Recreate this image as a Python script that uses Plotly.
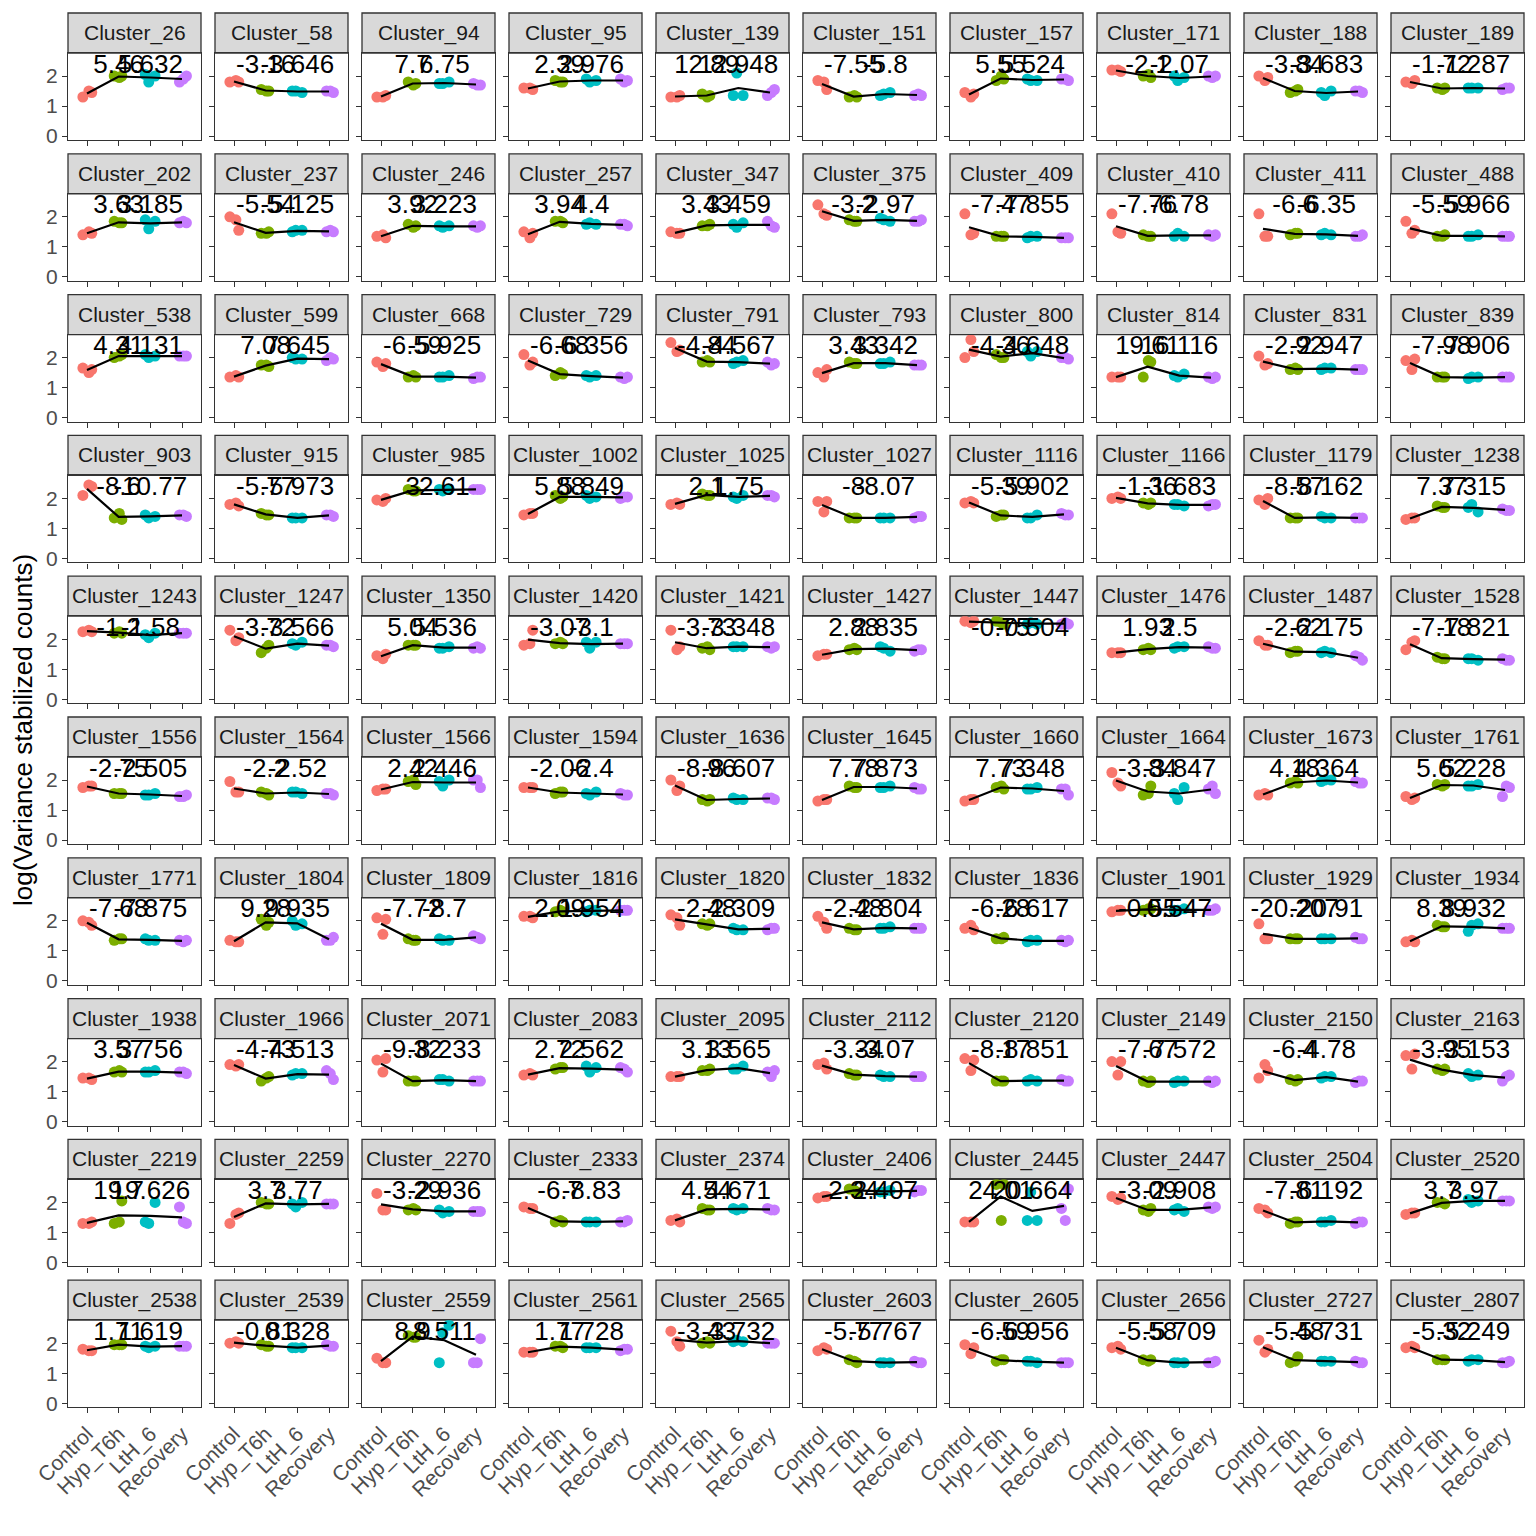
import plotly.graph_objects as go

CLUSTERS = [26, 58, 94, 95, 139, 151, 157, 171, 188, 189,
            202, 237, 246, 257, 347, 375, 409, 410, 411, 488,
            538, 599, 668, 729, 791, 793, 800, 814, 831, 839,
            903, 915, 985, 1002, 1025, 1027, 1116, 1166, 1179, 1238,
            1243, 1247, 1350, 1420, 1421, 1427, 1447, 1476, 1487, 1528,
            1556, 1564, 1566, 1594, 1636, 1645, 1660, 1664, 1673, 1761,
            1771, 1804, 1809, 1816, 1820, 1832, 1836, 1901, 1929, 1934,
            1938, 1966, 2071, 2083, 2095, 2112, 2120, 2149, 2150, 2163,
            2219, 2259, 2270, 2333, 2374, 2406, 2445, 2447, 2504, 2520,
            2538, 2539, 2559, 2561, 2565, 2603, 2605, 2656, 2727, 2807]

GROUPS = ["Control", "Hyp_T6h", "LtH_6", "Recovery"]

CONTROL = [
    [1.3, 1.5, 1.45], [1.8, 1.85, 1.8], [1.3, 1.3, 1.35], [1.6, 1.6, 1.55], [1.3, 1.3, 1.35],
    [1.85, 1.8, 1.55], [1.45, 1.3, 1.4], [2.2, 2.2, 2.15], [2.0, 1.85, 1.95], [1.8, 1.75, 1.85],
    [1.4, 1.5, 1.45], [2.0, 1.9, 1.55], [1.35, 1.4, 1.3], [1.5, 1.3, 1.45], [1.5, 1.45, 1.45],
    [2.4, 2.1, 2.05], [2.1, 1.4, 1.45], [2.1, 1.5, 1.45], [2.1, 1.35, 1.35], [1.85, 1.45, 1.55],
    [1.65, 1.5, 1.6], [1.35, 1.4, 1.35], [1.85, 1.7, 1.8], [2.1, 1.75, 1.85], [2.5, 2.2, 2.25],
    [1.5, 1.35, 1.6], [2.0, 2.6, 2.2], [1.35, 1.35, 1.35], [2.05, 1.75, 1.8], [1.9, 1.6, 1.95],
    [2.1, 2.45, 2.4], [1.8, 1.85, 1.75], [1.95, 1.9, 2.0], [1.45, 1.5, 1.5], [1.8, 1.85, 1.8],
    [1.9, 1.55, 1.9], [1.85, 1.9, 1.85], [2.0, 2.05, 2.0], [1.95, 1.8, 2.0], [1.3, 1.35, 1.35],
    [2.25, 2.3, 2.25], [2.3, 1.95, 2.05], [1.45, 1.35, 1.5], [1.8, 1.85, 2.3], [2.3, 1.65, 1.75],
    [1.45, 1.5, 1.5], [2.6, 2.55, 2.6], [1.55, 1.55, 1.55], [1.95, 1.8, 1.8], [1.65, 1.9, 1.95],
    [1.75, 1.8, 1.8], [1.95, 1.6, 1.6], [1.65, 1.7, 1.7], [1.75, 1.75, 1.75], [2.0, 1.65, 1.8],
    [1.3, 1.35, 1.35], [1.3, 1.35, 1.35], [2.25, 1.9, 1.8], [1.5, 1.55, 1.5], [1.45, 1.35, 1.4],
    [2.0, 1.95, 1.85], [1.35, 1.3, 1.3], [2.1, 1.55, 2.05], [2.15, 2.15, 2.1], [2.2, 2.1, 1.85],
    [2.15, 1.95, 1.75], [1.75, 1.85, 1.7], [2.3, 2.35, 2.35], [1.9, 1.4, 1.4], [1.3, 1.35, 1.3],
    [1.45, 1.45, 1.4], [1.9, 1.85, 1.9], [2.05, 1.65, 2.1], [1.55, 1.6, 1.55], [1.5, 1.5, 1.5],
    [1.9, 1.95, 1.75], [2.1, 1.7, 2.05], [2.0, 1.55, 2.0], [1.45, 1.9, 1.7], [2.2, 1.75, 2.25],
    [1.3, 1.3, 1.35], [1.3, 1.6, 1.65], [2.3, 1.75, 1.75], [1.85, 1.8, 1.8], [1.4, 1.45, 1.35],
    [2.15, 2.2, 2.2], [1.35, 1.35, 1.35], [2.2, 2.1, 2.15], [1.8, 1.75, 1.65], [1.6, 1.65, 1.65],
    [1.8, 1.75, 1.75], [2.0, 2.05, 2.0], [1.5, 1.35, 1.35], [1.7, 1.7, 1.7], [2.4, 2.05, 1.9],
    [1.75, 1.85, 1.8], [1.95, 1.65, 1.85], [1.85, 1.9, 1.8], [2.1, 1.7, 1.8], [1.85, 1.9, 1.85],
]

HYP_T6H = [
    [2.0, 2.0, 1.95], [1.5, 1.55, 1.5], [1.75, 1.8, 1.7], [1.8, 1.85, 1.8], [1.35, 1.4, 1.3],
    [1.3, 1.3, 1.35], [1.9, 1.85, 2.0], [1.95, 2.0, 2.05], [1.55, 1.45, 1.5], [1.6, 1.6, 1.55],
    [1.8, 1.85, 1.8], [1.5, 1.45, 1.45], [1.7, 1.75, 1.65], [1.8, 1.85, 1.85], [1.75, 1.7, 1.7],
    [1.85, 1.9, 1.85], [1.35, 1.35, 1.35], [1.35, 1.4, 1.35], [1.45, 1.4, 1.45], [1.4, 1.35, 1.35],
    [2.1, 2.0, 2.05], [1.7, 1.75, 1.75], [1.35, 1.35, 1.4], [1.45, 1.4, 1.5], [1.85, 1.85, 1.9],
    [1.8, 1.85, 1.8], [2.0, 2.1, 2.0], [1.85, 1.35, 1.9], [1.6, 1.6, 1.65], [1.35, 1.35, 1.35],
    [1.3, 1.35, 1.5], [1.45, 1.5, 1.45], [2.25, 2.3, 2.25], [2.05, 2.1, 2.0], [2.1, 2.15, 2.1],
    [1.35, 1.35, 1.35], [1.45, 1.4, 1.45], [1.85, 1.85, 1.8], [1.35, 1.35, 1.35], [1.7, 1.75, 1.7],
    [2.2, 2.2, 2.25], [1.8, 1.55, 1.7], [1.8, 1.8, 1.8], [1.85, 1.85, 1.9], [1.65, 1.7, 1.75],
    [1.65, 1.65, 1.7], [2.5, 2.6, 2.55], [1.65, 1.65, 1.7], [1.6, 1.55, 1.6], [1.35, 1.4, 1.35],
    [1.55, 1.55, 1.55], [1.5, 1.6, 1.55], [1.85, 1.95, 2.0], [1.6, 1.55, 1.6], [1.35, 1.35, 1.3],
    [1.75, 1.8, 1.75], [1.7, 1.75, 1.8], [1.8, 1.5, 1.55], [1.9, 1.9, 1.95], [1.85, 1.85, 1.8],
    [1.4, 1.35, 1.4], [1.95, 2.05, 1.85], [1.35, 1.4, 1.35], [2.3, 2.3, 2.35], [1.9, 1.9, 1.85],
    [1.7, 1.75, 1.7], [1.45, 1.4, 1.4], [2.4, 2.35, 2.4], [1.4, 1.4, 1.4], [1.8, 1.85, 1.8],
    [1.65, 1.65, 1.7], [1.5, 1.35, 1.45], [1.35, 1.35, 1.35], [1.8, 1.75, 1.8], [1.75, 1.7, 1.7],
    [1.55, 1.6, 1.55], [1.35, 1.35, 1.35], [1.35, 1.35, 1.3], [1.4, 1.4, 1.35], [1.75, 1.75, 1.7],
    [2.05, 1.3, 1.35], [1.95, 2.0, 1.95], [1.75, 1.75, 1.8], [1.35, 1.35, 1.4], [1.75, 1.8, 1.75],
    [2.35, 2.45, 2.4], [2.6, 2.6, 1.4], [1.8, 1.75, 1.7], [1.35, 1.3, 1.35], [1.95, 2.0, 2.0],
    [1.95, 1.95, 1.95], [1.9, 1.95, 1.9], [2.2, 2.25, 2.2], [1.85, 1.9, 1.9], [2.0, 2.0, 2.05],
    [1.35, 1.45, 1.4], [1.45, 1.4, 1.45], [1.45, 1.45, 1.4], [1.55, 1.35, 1.4], [1.45, 1.45, 1.45],
]

LTH_6 = [
    [1.8, 2.0, 2.05], [1.5, 1.45, 1.5], [1.75, 1.8, 1.75], [1.8, 1.85, 1.9], [2.1, 1.35, 1.35],
    [1.4, 1.45, 1.35], [1.85, 1.85, 1.9], [1.85, 1.95, 2.0], [1.35, 1.5, 1.45], [1.6, 1.6, 1.6],
    [1.6, 1.85, 1.9], [1.55, 1.55, 1.5], [1.65, 1.7, 1.7], [1.8, 1.75, 1.75], [1.65, 1.8, 1.75],
    [1.9, 1.85, 1.95], [1.35, 1.35, 1.3], [1.45, 1.35, 1.35], [1.45, 1.4, 1.4], [1.35, 1.4, 1.35],
    [2.0, 2.05, 2.1], [1.95, 1.95, 2.0], [1.35, 1.4, 1.35], [1.35, 1.4, 1.4], [1.85, 1.9, 1.8],
    [1.8, 1.85, 1.8], [2.05, 2.2, 2.2], [1.35, 1.45, 1.4], [1.65, 1.65, 1.6], [1.35, 1.35, 1.3],
    [1.35, 1.4, 1.45], [1.35, 1.35, 1.35], [2.25, 2.3, 2.3], [2.0, 2.05, 2.1], [2.0, 2.1, 2.05],
    [1.35, 1.35, 1.35], [1.35, 1.45, 1.35], [1.8, 1.75, 1.8], [1.35, 1.35, 1.4], [1.8, 1.55, 1.7],
    [2.05, 2.2, 2.15], [1.8, 1.9, 1.85], [1.7, 1.75, 1.7], [1.7, 1.9, 1.9], [1.75, 1.75, 1.75],
    [1.7, 1.6, 1.75], [2.55, 2.5, 2.5], [1.75, 1.75, 1.7], [1.6, 1.55, 1.55], [1.35, 1.3, 1.35],
    [1.5, 1.55, 1.5], [1.6, 1.55, 1.6], [1.8, 2.0, 1.95], [1.5, 1.6, 1.55], [1.35, 1.35, 1.4],
    [1.75, 1.8, 1.75], [1.7, 1.75, 1.7], [1.35, 1.75, 1.55], [2.0, 2.0, 1.95], [1.8, 1.85, 1.8],
    [1.35, 1.35, 1.4], [1.85, 1.9, 2.0], [1.35, 1.35, 1.4], [2.35, 2.35, 2.3], [1.7, 1.7, 1.75],
    [1.75, 1.8, 1.75], [1.35, 1.35, 1.3], [2.35, 2.4, 2.35], [1.4, 1.4, 1.4], [1.85, 1.9, 1.65],
    [1.65, 1.7, 1.65], [1.6, 1.6, 1.55], [1.4, 1.35, 1.4], [1.65, 1.8, 1.85], [1.75, 1.85, 1.75],
    [1.5, 1.5, 1.55], [1.4, 1.35, 1.35], [1.35, 1.35, 1.3], [1.5, 1.5, 1.45], [1.5, 1.55, 1.6],
    [1.3, 2.0, 1.35], [1.85, 2.0, 1.95], [1.65, 1.7, 1.75], [1.35, 1.35, 1.35], [1.75, 1.8, 1.8],
    [2.35, 2.4, 2.35], [2.35, 1.4, 1.4], [1.8, 1.7, 1.75], [1.35, 1.4, 1.35], [2.0, 2.05, 2.1],
    [1.85, 1.9, 1.9], [1.85, 1.85, 1.85], [2.35, 2.6, 1.35], [1.85, 1.85, 1.85], [2.1, 2.05, 2.05],
    [1.35, 1.35, 1.35], [1.4, 1.35, 1.4], [1.35, 1.35, 1.35], [1.4, 1.4, 1.4], [1.45, 1.45, 1.4],
]

RECOVERY = [
    [2.0, 1.8, 1.9], [1.45, 1.5, 1.5], [1.7, 1.75, 1.7], [1.85, 1.9, 1.8], [1.55, 1.35, 1.45],
    [1.35, 1.35, 1.4], [1.85, 1.9, 1.9], [2.0, 2.0, 1.95], [1.45, 1.5, 1.5], [1.6, 1.55, 1.6],
    [1.8, 1.8, 1.85], [1.5, 1.5, 1.55], [1.7, 1.7, 1.65], [1.7, 1.75, 1.75], [1.65, 1.85, 1.7],
    [1.9, 1.85, 1.85], [1.3, 1.3, 1.3], [1.4, 1.4, 1.35], [1.4, 1.35, 1.35], [1.35, 1.35, 1.35],
    [2.05, 2.05, 2.05], [1.95, 1.9, 2.0], [1.35, 1.3, 1.35], [1.35, 1.35, 1.3], [1.8, 1.85, 1.75],
    [1.75, 1.75, 1.75], [1.95, 2.0, 2.0], [1.35, 1.35, 1.3], [1.6, 1.6, 1.6], [1.35, 1.35, 1.35],
    [1.4, 1.45, 1.45], [1.4, 1.45, 1.45], [2.3, 2.3, 2.3], [2.05, 2.0, 2.05], [2.05, 2.1, 2.1],
    [1.4, 1.35, 1.4], [1.45, 1.5, 1.45], [1.8, 1.75, 1.8], [1.35, 1.35, 1.35], [1.6, 1.65, 1.6],
    [2.2, 2.2, 2.2], [1.75, 1.8, 1.8], [1.7, 1.7, 1.75], [1.85, 1.85, 1.85], [1.75, 1.75, 1.7],
    [1.65, 1.6, 1.65], [2.5, 2.5, 2.55], [1.7, 1.75, 1.7], [1.3, 1.45, 1.4], [1.3, 1.35, 1.3],
    [1.5, 1.45, 1.45], [1.5, 1.55, 1.55], [1.75, 2.0, 2.0], [1.5, 1.55, 1.5], [1.35, 1.4, 1.4],
    [1.7, 1.75, 1.7], [1.5, 1.7, 1.7], [1.55, 1.7, 1.8], [1.9, 1.95, 1.9], [1.75, 1.45, 1.8],
    [1.35, 1.35, 1.3], [1.45, 1.35, 1.35], [1.4, 1.5, 1.45], [2.35, 2.35, 2.35], [1.75, 1.7, 1.75],
    [1.75, 1.75, 1.75], [1.35, 1.35, 1.3], [2.4, 2.35, 2.35], [1.4, 1.45, 1.4], [1.75, 1.75, 1.75],
    [1.6, 1.65, 1.65], [1.4, 1.7, 1.6], [1.35, 1.35, 1.35], [1.65, 1.8, 1.75], [1.7, 1.65, 1.5],
    [1.5, 1.5, 1.5], [1.35, 1.4, 1.35], [1.35, 1.35, 1.3], [1.35, 1.3, 1.35], [1.55, 1.35, 1.5],
    [1.3, 1.85, 1.35], [1.95, 1.95, 1.95], [1.7, 1.7, 1.7], [1.4, 1.35, 1.35], [1.75, 1.8, 1.75],
    [2.4, 2.35, 2.4], [2.45, 1.8, 1.4], [1.85, 1.85, 1.8], [1.35, 1.3, 1.35], [2.05, 2.05, 2.05],
    [1.9, 1.9, 1.9], [1.9, 1.95, 1.9], [2.15, 1.35, 1.35], [1.8, 1.75, 1.8], [2.0, 2.0, 2.0],
    [1.35, 1.4, 1.35], [1.35, 1.35, 1.35], [1.4, 1.35, 1.35], [1.35, 1.4, 1.35], [1.4, 1.35, 1.35],
]

LABEL_HYP = ["5.46", "-3.16", "7.7", "2.39", "12.89", "-7.55", "5.55", "-2.1", "-3.84", "-1.72",
             "3.63", "-5.54", "3.92", "3.94", "3.43", "-3.2", "-7.47", "-7.76", "-6.6", "-5.59",
             "4.31", "7.08", "-6.59", "-6.68", "-4.84", "3.43", "-4.36", "19.61", "-2.92", "-7.98",
             "-8.6", "-5.77", "3", "5.88", "2.1", "-8", "-5.39", "-1.36", "-8.57", "7.37",
             "-1.2", "-3.72", "5.04", "-3.07", "-3.73", "2.88", "-0.75", "1.93", "-2.62", "-7.18",
             "-2.75", "-2.2", "2.42", "-2.06", "-8.96", "7.78", "7.73", "-3.84", "4.18", "5.62",
             "-7.68", "9.28", "-7.72", "2.09", "-2.48", "-2.48", "-6.28", "-0.55", "-20.207", "8.39",
             "3.57", "-4.73", "-9.32", "2.72", "3.13", "-3.34", "-8.17", "-7.67", "-6.4", "-3.95",
             "19.7", "3.7", "-3.29", "-6.7", "4.54", "2.34", "24.01", "-3.09", "-7.81", "3.7",
             "1.71", "-0.81", "8.9", "1.77", "-3.43", "-5.77", "-6.59", "-5.58", "-5.48", "-5.32"]

LABEL_LTH = ["5.632", "-3.646", "6.75", "2.976", "12.948", "-5.8", "5.524", "-2.07", "-3.683", "-1.287",
             "3.185", "-5.125", "3.223", "4.4", "3.459", "-2.97", "-7.855", "-6.78", "-6.35", "-5.966",
             "4.131", "7.645", "-5.925", "-6.356", "-4.567", "3.342", "-4.648", "16.116", "-2.947", "-7.906",
             "-10.77", "-5.973", "2.61", "5.849", "1.75", "-8.07", "-5.902", "-1.683", "-8.162", "7.315",
             "-1.58", "-3.566", "5.536", "-3.1", "-3.348", "2.835", "-0.504", "2.5", "-2.175", "-7.821",
             "-2.505", "-2.52", "2.446", "-2.4", "-8.607", "7.873", "7.348", "-3.847", "4.364", "5.228",
             "-7.875", "9.935", "-8.7", "1.954", "-2.309", "-2.804", "-6.617", "0.547", "-20.91", "8.932",
             "3.756", "-4.513", "-8.233", "2.562", "3.565", "-3.07", "-8.851", "-7.572", "-4.78", "-3.153",
             "19.626", "3.77", "-2.936", "-8.83", "4.671", "2.407", "20.664", "-2.908", "-6.192", "3.97",
             "1.619", "0.328", "8.511", "1.728", "-3.732", "-5.767", "-6.956", "-5.709", "-5.731", "-5.249"]

COLORS = ["#F8766D", "#7CAE00", "#00BFC4", "#C77CFF"]
JITTER = [[-0.13, 0.06, 0.15], [0.1, -0.14, 0.02], [-0.05, 0.15, -0.16], [0.14, -0.08, 0.04]]

W = H = 1536
NCOL = 10
FONT = "Liberation Sans, Arial, sans-serif"
YR = [-0.133, 2.767]
XR = [0.4, 4.6]
LABEL_Y = 2.33

fig = go.Figure()
shapes = []
annotations = []
layout_axes = {}

for k, cid in enumerate(CLUSTERS):
    r, c = divmod(k, NCOL)
    n = k + 1
    xs = "x" if n == 1 else f"x{n}"
    ys = "y" if n == 1 else f"y{n}"
    x0 = 68 + 147 * c
    x1 = x0 + 133
    st = 13 + 140.8 * r
    sb = st + 40
    pb = st + 127

    groups = [CONTROL[k], HYP_T6H[k], LTH_6[k], RECOVERY[k]]
    px, py, pc = [], [], []
    means = []
    for g, vals in enumerate(groups):
        for i, v in enumerate(vals):
            px.append(g + 1 + JITTER[g][i % 3])
            py.append(v)
            pc.append(COLORS[g])
        means.append(sum(vals) / len(vals))

    fig.add_trace(go.Scatter(x=px, y=py, mode="markers", xaxis=xs, yaxis=ys,
                             marker=dict(size=11, color=pc, line=dict(width=0)),
                             showlegend=False, hoverinfo="skip"))
    fig.add_trace(go.Scatter(x=[1, 2, 3, 4], y=means, mode="lines", xaxis=xs, yaxis=ys,
                             line=dict(color="black", width=2.2),
                             showlegend=False, hoverinfo="skip"))
    fig.add_trace(go.Scatter(x=[2, 3], y=[LABEL_Y, LABEL_Y], mode="text", xaxis=xs, yaxis=ys,
                             text=[LABEL_HYP[k], LABEL_LTH[k]], textposition="middle center",
                             textfont=dict(size=26, color="black", family=FONT),
                             showlegend=False, hoverinfo="skip", cliponaxis=False))

    layout_axes["xaxis" if n == 1 else f"xaxis{n}"] = dict(
        domain=[x0 / W, x1 / W], anchor=ys, range=XR, automargin=False,
        tickvals=[1, 2, 3, 4], ticktext=GROUPS,
        showticklabels=(r == 9), tickangle=-45,
        ticks="outside", ticklen=5, tickwidth=1.3, tickcolor="#333333",
        tickfont=dict(size=21, color="#4D4D4D", family=FONT),
        showline=True, mirror=True, linecolor="#333333", linewidth=1.3,
        showgrid=False, zeroline=False, fixedrange=True)
    layout_axes["yaxis" if n == 1 else f"yaxis{n}"] = dict(
        domain=[1 - pb / H, 1 - sb / H], anchor=xs, range=YR, automargin=False,
        tickvals=[0, 1, 2], showticklabels=(c == 0),
        ticks="outside", ticklen=5, tickwidth=1.3, tickcolor="#333333",
        tickfont=dict(size=21, color="#4D4D4D", family=FONT),
        showline=True, mirror=True, linecolor="#333333", linewidth=1.3,
        showgrid=False, zeroline=False, fixedrange=True)

    shapes.append(dict(type="rect", xref="paper", yref="paper",
                       x0=x0 / W, x1=x1 / W, y0=1 - sb / H, y1=1 - st / H,
                       fillcolor="#D9D9D9", line=dict(color="#333333", width=1.3),
                       layer="below"))
    annotations.append(dict(text=f"Cluster_{cid}", xref="paper", yref="paper",
                            x=(x0 + x1) / 2 / W, y=1 - (st + 20) / H,
                            xanchor="center", yanchor="middle", showarrow=False,
                            font=dict(size=21, color="#1A1A1A", family=FONT)))

annotations.append(dict(text="log(Variance stabilized counts)", xref="paper", yref="paper",
                        x=23 / W, y=1 - 730 / H, xanchor="center", yanchor="middle",
                        textangle=-90, showarrow=False,
                        font=dict(size=26, color="black", family=FONT)))

fig.update_layout(width=W, height=H, margin=dict(l=0, r=0, t=0, b=0, autoexpand=False),
                  paper_bgcolor="white", plot_bgcolor="white",
                  shapes=shapes, annotations=annotations, showlegend=False,
                  **layout_axes)

fig.write_html("out.html")
